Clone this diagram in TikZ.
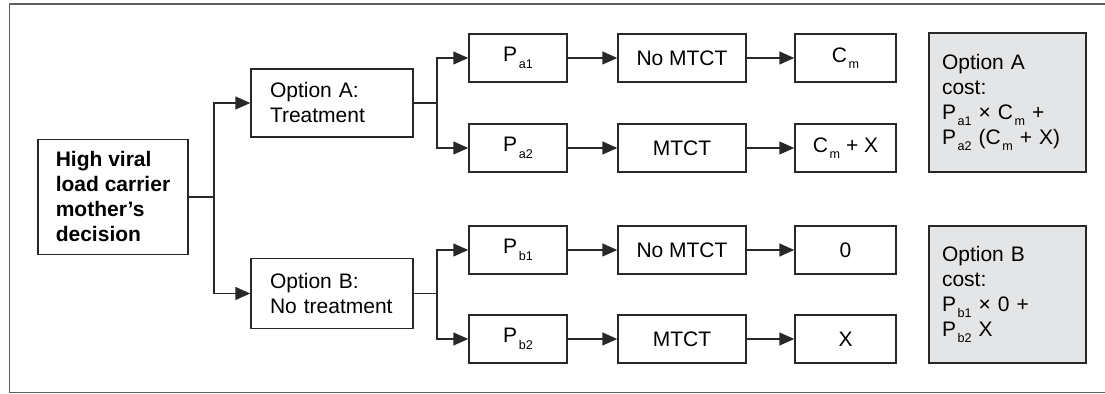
\documentclass[tikz,border=0pt]{standalone}
\usepackage{fontspec}
\setmainfont{Liberation Sans}
\usetikzlibrary{arrows.meta}
\definecolor{ln}{RGB}{40,40,40}
\definecolor{grayfill}{RGB}{228,229,231}
\definecolor{frm}{RGB}{95,95,95}
\newcommand{\sbx}[1]{\hspace{0.8pt}\raisebox{-3.2pt}{\fontsize{6.3}{6.3}\selectfont #1}}
\begin{document}
\begin{tikzpicture}[x=0.5pt,y=-0.5pt,
  box/.style={draw=ln, line width=0.75pt, minimum height=24pt, inner sep=0pt,
    font=\fontsize{10.5}{12.5}\selectfont},
  small/.style={box, minimum width=49pt},
  mid/.style={box, minimum width=64pt},
  res/.style={box, minimum width=50.5pt},
  costbox/.style={box, fill=grayfill, minimum width=78.5pt, align=left, text width=65.5pt},
  optbox/.style={box, minimum width=81pt, align=left, text width=62pt},
  plain/.style={draw=ln, line width=0.75pt},
  arr/.style={draw=ln, line width=0.75pt, -{Triangle[length=7.5pt,width=6.5pt]}}]
\useasboundingbox (0,0) rectangle (1105,394);
\draw[frm, line width=0.9pt] (1105,4) -- (9.5,4) -- (9.5,392.5) -- (1105,392.5);

\node[box, minimum width=75pt, minimum height=57.5pt, align=left,
  font=\bfseries\fontsize{10.5}{12.5}\selectfont] (main) at (113,197)
  {High viral\\load carrier\\mother’s\\decision};

\node[optbox, minimum height=34pt] (optA) at (332,103) {\mbox{Option A:}\\\mbox{Treatment}};
\node[optbox, minimum height=35pt] (optB) at (332,293.5) {\mbox{Option B:}\\\mbox{No treatment}};

\node[small] (pa1) at (518,58) {P\sbx{a1}};
\node[small] (pa2) at (518,148) {P\sbx{a2}};
\node[small] (pb1) at (518,250) {P\sbx{b1}};
\node[small] (pb2) at (518,339) {P\sbx{b2}};

\node[mid] (na) at (682,58) {No MTCT};
\node[mid] (ma) at (682,148) {MTCT};
\node[mid] (nb) at (682,250) {No MTCT};
\node[mid] (mb) at (682,339) {MTCT};

\node[res] (ca1) at (845.5,58) {C\sbx{m}};
\node[res] (ca2) at (845.5,148) {C\sbx{m} + X};
\node[res] (cb1) at (845.5,250) {0};
\node[res] (cb2) at (845.5,339) {X};

\node[costbox, minimum height=69.5pt] (costA) at (1007.5,102.5)
  {Option A\\cost:\\P\sbx{a1} × C\sbx{m} +\\P\sbx{a2} (C\sbx{m} + X)};
\node[costbox, minimum height=68.5pt] (costB) at (1007.5,294.5)
  {Option B\\cost:\\P\sbx{b1} × 0 +\\P\sbx{b2} X};

\path (main.east) ++(25,0) coordinate (j1);
\path (optA.east) ++(23,0) coordinate (j2);
\path (optB.east) ++(23,0) coordinate (j3);

\draw[plain] (main.east) -- (j1);
\draw[arr] (j1) |- (optA.west);
\draw[arr] (j1) |- (optB.west);

\draw[plain] (optA.east) -- (j2);
\draw[arr] (j2) |- (pa1.west);
\draw[arr] (j2) |- (pa2.west);

\draw[plain] (optB.east) -- (j3);
\draw[arr] (j3) |- (pb1.west);
\draw[arr] (j3) |- (pb2.west);

\draw[arr] (pa1) -- (na);
\draw[arr] (pa2) -- (ma);
\draw[arr] (pb1) -- (nb);
\draw[arr] (pb2) -- (mb);

\draw[arr] (na) -- (ca1);
\draw[arr] (ma) -- (ca2);
\draw[arr] (nb) -- (cb1);
\draw[arr] (mb) -- (cb2);
\end{tikzpicture}
\end{document}
